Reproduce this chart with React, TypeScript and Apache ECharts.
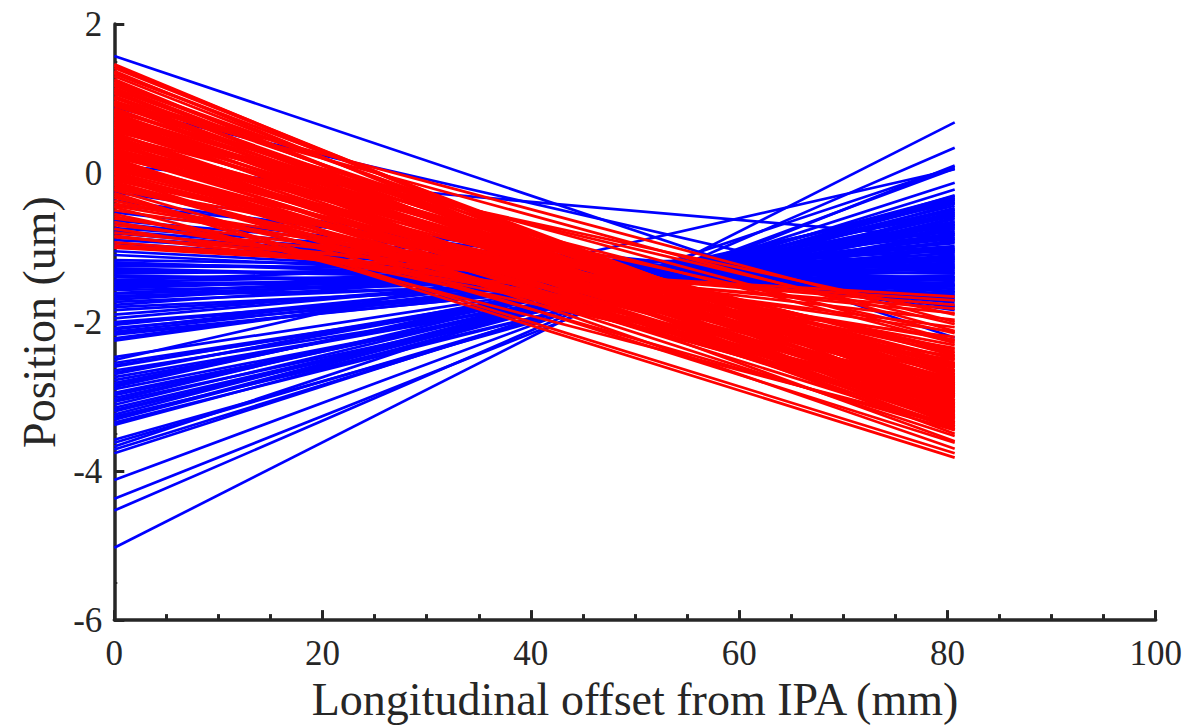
import React, { useEffect, useRef } from 'react';
import * as echarts from 'echarts';

// x positions of every segment's two ends (mm)
const X_START = 0;
const X_END = 80.7;

// axis ticks
const xTickLabels = [0, 20, 40, 60, 80, 100];
const yTickLabels = [-6, -4, -2, 0, 2];

// blue segments: value at x = 0 and at x = 80.7 (um)
const blueStart = [
  -5.03, -4.53, -4.37, -4.12, -3.76, -3.71, -3.67, -3.62, -3.58, -3.38,
  -3.35, -3.31, -3.27, -3.24, -3.2, -3.15, -3.11, -3.07, -3.02,
  -2.98, -2.9, -2.87, -2.82, -2.74, -2.68, -2.65, -2.6, -2.55, -2.51,
  -2.47, -2.22, -2.17, -2.13, -2.08, -2.04, -2.0, -1.9, -1.84,
  -1.77, -1.73, -1.67, -1.62, -1.61, -1.57, -1.53, -1.48, -1.44, -1.4,
  -1.35, -1.3, -1.25, -1.2, -1.17, -1.05, -1.0, -0.94, -0.9, -0.81,
  -0.74, -0.68, -0.64, -0.53, -0.43, -0.37, -0.26, 0.1, 0.88, 1.57,
  -3.3, -3.18, -3.05, -2.95, -2.85, -2.78, -2.7, -2.58,
  -2.25, -2.15, -2.1, -2.02, -1.95, -1.8, -1.7, -1.65, -1.55,
  -1.5, -1.46, -1.38, -1.33, -1.28, -1.22, -1.1, -0.98, -0.86, -0.78,
];
const blueEnd = [
  0.68, 0.34, 0.1, 0.06, -0.13, -0.22, 0.08, -0.3, -0.41, -0.35,
  -0.52, -0.38, -0.6, -0.33, -0.47, -0.55, -0.44, -0.68, -0.5,
  -0.62, -0.72, -0.4, -0.58, -0.8, -0.65, -0.9, -0.7, -0.85, 0.05,
  -0.75, -0.78, -1.02, -0.88, -1.1, -0.92, -1.15, -1.0, -1.2,
  -0.98, -1.25, -1.08, -1.32, -1.12, -1.38, -1.18, -1.42, -1.05, -1.48,
  -1.22, -1.52, -1.3, -1.58, -1.35, -1.62, -1.28, -1.66, -1.45, -1.7,
  -1.5, -1.74, -1.56, -1.78, -1.6, -1.8, -1.84, -0.88, -1.71, -2.21,
  -0.31, -0.57, -0.36, -0.66, -0.49, -0.74, -0.54, -0.83,
  -0.7, -1.06, -0.82, -1.13, -0.94, -1.27, -1.03, -1.4, -1.16,
  -1.44, -1.24, -1.5, -1.34, -1.55, -1.4, -1.64, -1.52, -1.68, -1.6,
];

// red segments: value at x = 0 and at x = 80.7 (um)
const redStart = [
  1.46, 1.41, 1.37, 1.33, 1.3, 1.26, 1.21, 1.17, 1.14, 1.1,
  1.06, 1.01, 0.97, 0.93, 0.9, 0.87, 0.84, 0.81, 0.78, 0.75,
  0.72, 0.69, 0.66, 0.63, 0.6, 0.57, 0.54, 0.51, 0.48, 0.45,
  0.42, 0.39, 0.36, 0.33, 0.3, 0.27, 0.24, 0.21, 0.18, 0.15,
  0.12, 0.09, 0.06, 0.03, 0.0, -0.03, -0.06, -0.1, -0.14, -0.19,
  -0.23, -0.27, -0.3, -0.37, -0.41, -0.46, -0.5, -0.55, -0.61, -0.66,
  -0.7, -0.75, -0.8, -0.84, -0.86, -0.93, -0.97, -1.0, 1.0, 0.55,
  0.82, 0.35, 0.2, 0.5, 0.1, -0.05, 0.65, 0.44, 0.28, 0.05,
  0.92, 0.71, 0.58, 0.38, 0.25, 0.13, 0.01, -0.12, 1.12, 0.77,
  1.44, 1.35, 1.23, 1.19, 1.08, 1.03, 0.95, 0.85, 0.79, 0.73,
  0.67, 0.61, 0.53, 0.47, 0.41, 0.37, 0.31, 0.22, 0.16, 0.07,
  -0.01, -0.08, -0.16, -0.21, -0.33, -0.44, -0.58, 0.96, 0.62, 0.32,
];
const redEnd = [
  -3.22, -3.05, -3.3, -2.9, -3.1, -3.4, -2.85, -3.15, -3.0, -3.35,
  -2.75, -3.2, -2.95, -3.45, -2.7, -3.1, -2.88, -3.28, -2.6, -3.05,
  -2.8, -3.5, -2.55, -2.03, -3.0, -2.72, -3.25, -2.45, -2.9, -3.12,
  -2.65, -3.36, -2.5, -2.95, -3.4, -2.78, -3.08, -2.37, -3.2, -2.85,
  -3.53, -2.62, -3.0, -2.42, -3.3, -2.7, -3.62, -2.55, -3.15, -2.31,
  -3.45, -3.76, -3.82, -2.88, -2.24, -3.4, -2.13, -2.97, -2.07, -2.51,
  -1.97, -2.46, -1.88, -2.2, -1.77, -1.82, -1.71, -1.66, -2.0, -1.9,
  -2.25, -2.15, -3.7, -3.6, -3.42, -2.95, -3.35, -2.58, -3.22, -2.82,
  -2.68, -3.18, -2.92, -3.05, -2.6, -3.27, -2.76, -3.12, -2.98, -2.84,
  -3.12, -2.98, -3.26, -2.82, -3.38, -2.93, -3.16, -2.74, -3.3, -2.86,
  -3.02, -2.66, -3.44, -2.77, -3.18, -2.57, -3.06, -2.71, -3.33, -2.9,
  -3.1, -2.48, -3.24, -2.65, -3.0, -2.35, -2.8, -2.12, -2.28, -2.4,
];

const BLUE = '#0000ff';
const RED = '#ff0000';
const INK = '#262626';
const FONT = 'Liberation Serif';

function segments(starts: number[], ends: number[], color: string, prefix: string) {
  return starts.map((s, i) => ({
    name: prefix + i,
    type: 'line' as const,
    data: [
      [X_START, s],
      [X_END, ends[i]],
    ],
    symbol: 'none',
    silent: true,
    lineStyle: { color, width: 2.7 },
    z: 2,
  }));
}

export default function App() {
  const ref = useRef<HTMLDivElement>(null);

  useEffect(() => {
    if (!ref.current) return;
    const chart = echarts.init(ref.current, undefined, { renderer: 'svg' });
    chart.setOption({
      animation: false,
      backgroundColor: '#ffffff',
      grid: { left: 114.3, right: 32.3, top: 24, bottom: 105.5 },
      xAxis: {
        type: 'value',
        min: xTickLabels[0],
        max: xTickLabels[xTickLabels.length - 1],
        interval: 20,
        name: 'Longitudinal offset from IPA (mm)',
        nameLocation: 'middle',
        nameGap: 54,
        nameTextStyle: { fontFamily: FONT, fontSize: 46, color: INK },
        axisLine: { show: true, onZero: false, lineStyle: { color: INK, width: 3.5 } },
        axisTick: { show: true, inside: true, length: 10, lineStyle: { color: INK, width: 3 } },
        minorTick: { show: true, splitNumber: 4, length: 6, lineStyle: { color: INK, width: 3 } },
        splitLine: { show: false },
        minorSplitLine: { show: false },
        axisLabel: { fontFamily: FONT, fontSize: 35, color: INK, margin: 16 },
      },
      yAxis: {
        type: 'value',
        min: yTickLabels[0],
        max: yTickLabels[yTickLabels.length - 1],
        interval: 2,
        name: 'Position (um)',
        nameLocation: 'middle',
        nameRotate: 90,
        nameGap: 52,
        nameTextStyle: { fontFamily: FONT, fontSize: 46, color: INK },
        axisLine: { show: true, onZero: false, lineStyle: { color: INK, width: 3.5 } },
        axisTick: { show: true, inside: true, length: 10, lineStyle: { color: INK, width: 3 } },
        minorTick: { show: true, splitNumber: 4, length: 3, lineStyle: { color: INK, width: 2 } },
        splitLine: { show: false },
        minorSplitLine: { show: false },
        axisLabel: { fontFamily: FONT, fontSize: 35, color: INK, margin: 12 },
      },
      series: [
        ...segments(blueStart, blueEnd, BLUE, 'b'),
        ...segments(redStart, redEnd, RED, 'r'),
      ],
    });
    return () => chart.dispose();
  }, []);

  return (
    <div
      ref={ref}
      style={{ position: 'fixed', left: 0, top: 0, width: 1188, height: 727, background: '#fff' }}
    />
  );
}
